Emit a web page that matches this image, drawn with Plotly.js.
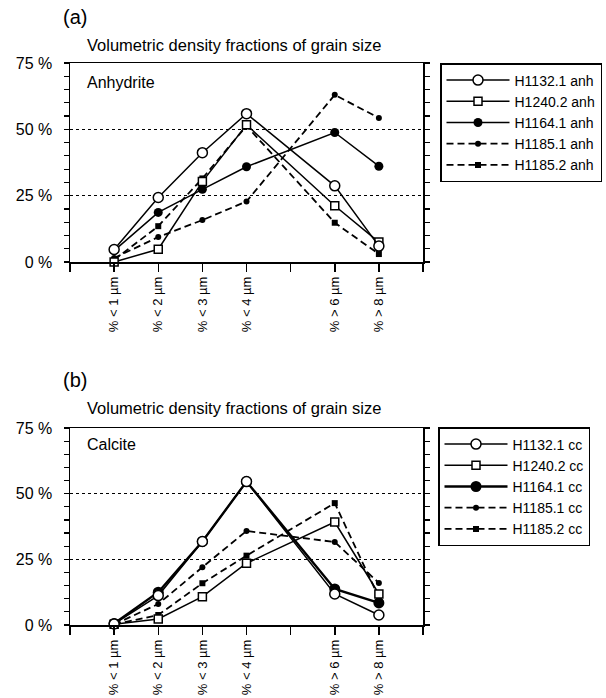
<!DOCTYPE html>
<html>
<head>
<meta charset="utf-8">
<script src="https://cdn.plot.ly/plotly-3.0.1.min.js"></script>
<style>html,body{margin:0;padding:0;background:#fff;}#chart{width:606px;height:698px;}</style>
</head>
<body>
<div id="chart"></div>
<script>
// Category labels and their slots on the x axis (slot 5 is an unlabeled tick)
const categories = ['% < 1 µm', '% < 2 µm', '% < 3 µm', '% < 4 µm', '% > 6 µm', '% > 8 µm'];
const categorySlots = [1, 2, 3, 4, 6, 7];
const axisSlots = [0, 1, 2, 3, 4, 5, 6, 7, 8];
const axisSlotLabels = ['', '% < 1 µm', '% < 2 µm', '% < 3 µm', '% < 4 µm', '', '% > 6 µm', '% > 8 µm', ''];
const yTickVals = [0, 25, 50, 75];
const yTickText = ['0 %', '25 %', '50 %', '75 %'];

// (a) Anhydrite
const anh_H1132_1 = [4.7, 24.3, 41.2, 55.9, 28.7, 6.0];
const anh_H1240_2 = [0.0, 4.8, 30.3, 51.7, 21.2, 7.5];
const anh_H1164_1 = [4.3, 18.7, 27.4, 35.9, 48.8, 36.1];
const anh_H1185_1 = [1.5, 9.4, 15.8, 22.8, 63.0, 54.3];
const anh_H1185_2 = [0.8, 13.5, 31.5, 51.3, 14.8, 3.0];

// (b) Calcite
const cc_H1132_1 = [0.4, 11.2, 31.8, 54.6, 11.8, 3.8];
const cc_H1240_2 = [0.3, 2.3, 10.8, 23.5, 39.2, 11.8];
const cc_H1164_1 = [0.6, 12.5, 31.8, 54.6, 13.7, 8.4];
const cc_H1185_1 = [0.2, 8.0, 22.0, 35.8, 31.6, 16.0];
const cc_H1185_2 = [0.2, 3.8, 15.9, 26.4, 46.4, 10.5];

const FONT = 'Liberation Sans, Arial, Helvetica, sans-serif';

function seriesSet(suffix, vals, xa, ya, legendName, bigFilled, thickFilled) {
  const common = {x: categorySlots, type: 'scatter', mode: 'lines+markers', xaxis: xa, yaxis: ya,
    cliponaxis: false, legend: legendName, customdata: categories};
  return [
    Object.assign({}, common, {y: vals[3], name: 'H1185.1 ' + suffix,
      line: {color: 'black', width: 1.8, dash: '7px,4px'},
      marker: {symbol: 'circle', size: 6, color: 'black'}}),
    Object.assign({}, common, {y: vals[4], name: 'H1185.2 ' + suffix,
      line: {color: 'black', width: 1.8, dash: '7px,4px'},
      marker: {symbol: 'square', size: 6, color: 'black'}}),
    Object.assign({}, common, {y: vals[2], name: 'H1164.1 ' + suffix,
      line: {color: 'black', width: thickFilled},
      marker: {symbol: 'circle', size: bigFilled, color: 'black'}}),
    Object.assign({}, common, {y: vals[1], name: 'H1240.2 ' + suffix,
      line: {color: 'black', width: 1.5},
      marker: {symbol: 'square', size: 8, color: 'white', line: {color: 'black', width: 1.5}}}),
    Object.assign({}, common, {y: vals[0], name: 'H1132.1 ' + suffix,
      line: {color: 'black', width: 1.5},
      marker: {symbol: 'circle', size: 10, color: 'white', line: {color: 'black', width: 1.5}}})
  ];
}

const tracesA = seriesSet('anh', [anh_H1132_1, anh_H1240_2, anh_H1164_1, anh_H1185_1, anh_H1185_2], 'x', 'y', 'legend', 9, 1.5);
const tracesB = seriesSet('cc', [cc_H1132_1, cc_H1240_2, cc_H1164_1, cc_H1185_1, cc_H1185_2], 'x2', 'y2', 'legend2', 11, 2.4);
// legend order: H1132.1, H1240.2, H1164.1, H1185.1, H1185.2
const order = ['H1132.1', 'H1240.2', 'H1164.1', 'H1185.1', 'H1185.2'];
[tracesA, tracesB].forEach(ts => ts.forEach(t => { t.legendrank = order.indexOf(t.name.split(' ')[0]) + 1; }));

const W = 606, H = 698;
const xDom = [70 / W, 423 / W];

function xAxis(anchor) {
  return {domain: xDom, anchor: anchor, range: [0, 8], tickmode: 'array', tickvals: axisSlots,
    ticktext: axisSlotLabels, tickangle: -90, ticks: 'outside', ticklen: 8, tickwidth: 1.5,
    tickcolor: 'black', showline: true, linecolor: 'black', linewidth: 1.5, mirror: true,
    showgrid: false, zeroline: false, tickfont: {family: FONT, size: 13, color: 'black'}, fixedrange: true};
}
function yAxis(anchor, dom) {
  return {domain: dom, anchor: anchor, range: [0, 75], tickmode: 'array', tickvals: yTickVals,
    ticktext: yTickText, ticks: 'outside', ticklen: 5, tickwidth: 1.5, tickcolor: 'black',
    ticklabelstandoff: 8,
    minor: {dtick: 5, tick0: 0, ticks: 'outside', ticklen: 5, tickwidth: 1.2, tickcolor: 'black', showgrid: false},
    showline: true, linecolor: 'black', linewidth: 1.5, mirror: 'ticks',
    showgrid: true, gridcolor: 'black', gridwidth: 1, griddash: 'dot', zeroline: false,
    tickfont: {family: FONT, size: 16, color: 'black'}, fixedrange: true};
}

function ann(text, x, y, size) {
  return {text: text, xref: 'paper', yref: 'paper', x: x / W, y: 1 - y / H, xanchor: 'left', yanchor: 'middle',
    showarrow: false, font: {family: FONT, size: size, color: 'black'}};
}

const legendBase = {xanchor: 'left', yanchor: 'top', bgcolor: 'white', bordercolor: 'black', borderwidth: 1.5,
  font: {family: FONT, size: 14, color: 'black'}, itemwidth: 63, traceorder: 'normal', tracegroupgap: 0};

const layout = {
  width: W, height: H, margin: {l: 0, r: 0, t: 0, b: 0}, paper_bgcolor: 'white', plot_bgcolor: 'white',
  showlegend: true,
  xaxis: xAxis('y'), yaxis: yAxis('x', [1 - 262 / H, 1 - 63 / H]),
  xaxis2: xAxis('y2'), yaxis2: yAxis('x2', [1 - 625 / H, 1 - 428 / H]),
  legend: Object.assign({}, legendBase, {x: 440 / W, y: 1 - 63 / H}),
  legend2: Object.assign({}, legendBase, {x: 438 / W, y: 1 - 427 / H}),
  annotations: [
    ann('(a)', 61, 17, 20),
    ann('Volumetric density fractions of grain size', 85, 45, 16.5),
    ann('Anhydrite', 85, 83, 16),
    ann('(b)', 61, 380, 20),
    ann('Volumetric density fractions of grain size', 85, 408, 16.5),
    ann('Calcite', 85, 445, 16)
  ]
};

Plotly.newPlot('chart', tracesA.concat(tracesB), layout, {staticPlot: true, displayModeBar: false});
</script>
</body>
</html>
